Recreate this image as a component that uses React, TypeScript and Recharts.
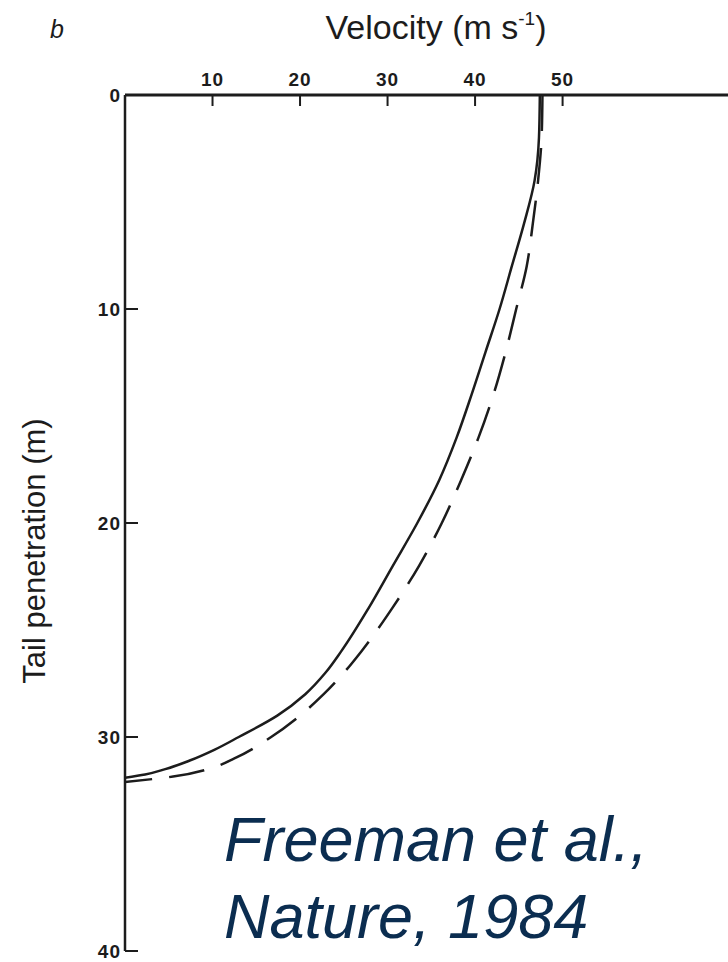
import { LineChart, Line, XAxis, YAxis } from 'recharts';

// tail penetration (m) vs velocity (m/s)
const solidDepth = [0, 2, 4, 6, 8, 10, 12, 14, 16, 18, 20, 22, 24, 26, 27, 28, 29, 30, 30.6, 31.1, 31.5, 31.75, 31.9];
const solidVelocity = [47.4, 47.3, 46.8, 45.6, 44.2, 42.8, 41.2, 39.6, 37.9, 35.9, 33.4, 30.6, 27.8, 24.7, 22.9, 20.6, 17.4, 13.0, 10.2, 7.4, 4.6, 2.3, 0];

const dashedDepth = [0, 2, 4, 6, 8, 10, 12, 14, 16, 18, 20, 22, 24, 26, 27, 28, 29, 30, 31, 31.5, 31.85, 32.1];
const dashedVelocity = [47.7, 47.6, 47.2, 46.6, 45.9, 44.7, 43.5, 42.1, 40.4, 38.4, 36.2, 33.6, 30.5, 27.0, 25.0, 22.7, 20.0, 16.7, 12.5, 9.5, 5.5, 0];

const velocityTicks = [10, 20, 30, 40, 50];
const depthTicks = [0, 10, 20, 30, 40];

const solid = solidDepth.map((d, i) => ({ d, v: solidVelocity[i] }));
const dashed = dashedDepth.map((d, i) => ({ d, v: dashedVelocity[i] }));

const INK = '#1c1c1c';
const FONT = '"Liberation Sans", Arial, sans-serif';

const TopTick = (props: any) => {
  const { x, y, payload } = props;
  return (
    <g>
      <line x1={x} y1={y} x2={x} y2={y + 11} stroke={INK} strokeWidth={2} />
      <text x={x} y={y - 9} textAnchor="middle" fontSize={19} fontWeight="bold" letterSpacing={1} fontFamily={FONT} fill={INK}>
        {payload.value}
      </text>
    </g>
  );
};

const LeftTick = (props: any) => {
  const { x, y, payload } = props;
  return (
    <g>
      {payload.value !== 0 && <line x1={x} y1={y} x2={x + 13} y2={y} stroke={INK} strokeWidth={2} />}
      <text x={x - 4} y={y + 7} textAnchor="end" fontSize={19} fontWeight="bold" letterSpacing={1} fontFamily={FONT} fill={INK}>
        {payload.value}
      </text>
    </g>
  );
};

export default function App() {
  return (
    <div style={{ position: 'absolute', left: 0, top: 0, width: 728, height: 962, background: '#fff' }}>
      <LineChart layout="vertical" width={728} height={962} margin={{ top: 0, right: 0, bottom: 11, left: 0 }}>
        <XAxis
          type="number"
          orientation="top"
          domain={[0, 68.9]}
          ticks={velocityTicks}
          allowDataOverflow
          height={95}
          tickSize={0}
          tickMargin={0}
          tickLine={false}
          tick={TopTick}
          axisLine={{ stroke: INK, strokeWidth: 3 }}
        />
        <YAxis
          type="number"
          dataKey="d"
          domain={[0, 40]}
          ticks={depthTicks}
          width={125}
          tickSize={0}
          tickMargin={0}
          tickLine={false}
          tick={LeftTick}
          axisLine={{ stroke: INK, strokeWidth: 2.5 }}
        />
        <Line data={solid} dataKey="v" type="monotone" stroke={INK} strokeWidth={2.5} dot={false} isAnimationActive={false} />
        <Line data={dashed} dataKey="v" type="monotone" stroke={INK} strokeWidth={2.5} strokeDasharray="36 17" dot={false} isAnimationActive={false} />
      </LineChart>
      <svg width={728} height={962} style={{ position: 'absolute', left: 0, top: 0, pointerEvents: 'none' }}>
        <text x={50} y={38} fontSize={25} fontStyle="italic" fontFamily={FONT} fill={INK}>b</text>
        <text x={436} y={39} textAnchor="middle" fontSize={34} fontFamily={FONT} fill={INK}>
          Velocity (m s<tspan fontSize={19} dy={-14}>-1</tspan><tspan dy={14}>)</tspan>
        </text>
        <text x={0} y={0} transform="translate(45,551) rotate(-90)" textAnchor="middle" fontSize={31} fontFamily={FONT} fill={INK}>
          Tail penetration (m)
        </text>
        <text x={224} y={861} fontSize={63} fontStyle="italic" fontFamily={FONT} fill="#0b2d50">Freeman et al.,</text>
        <text x={224} y={938} fontSize={63} fontStyle="italic" fontFamily={FONT} fill="#0b2d50">Nature, 1984</text>
      </svg>
    </div>
  );
}
